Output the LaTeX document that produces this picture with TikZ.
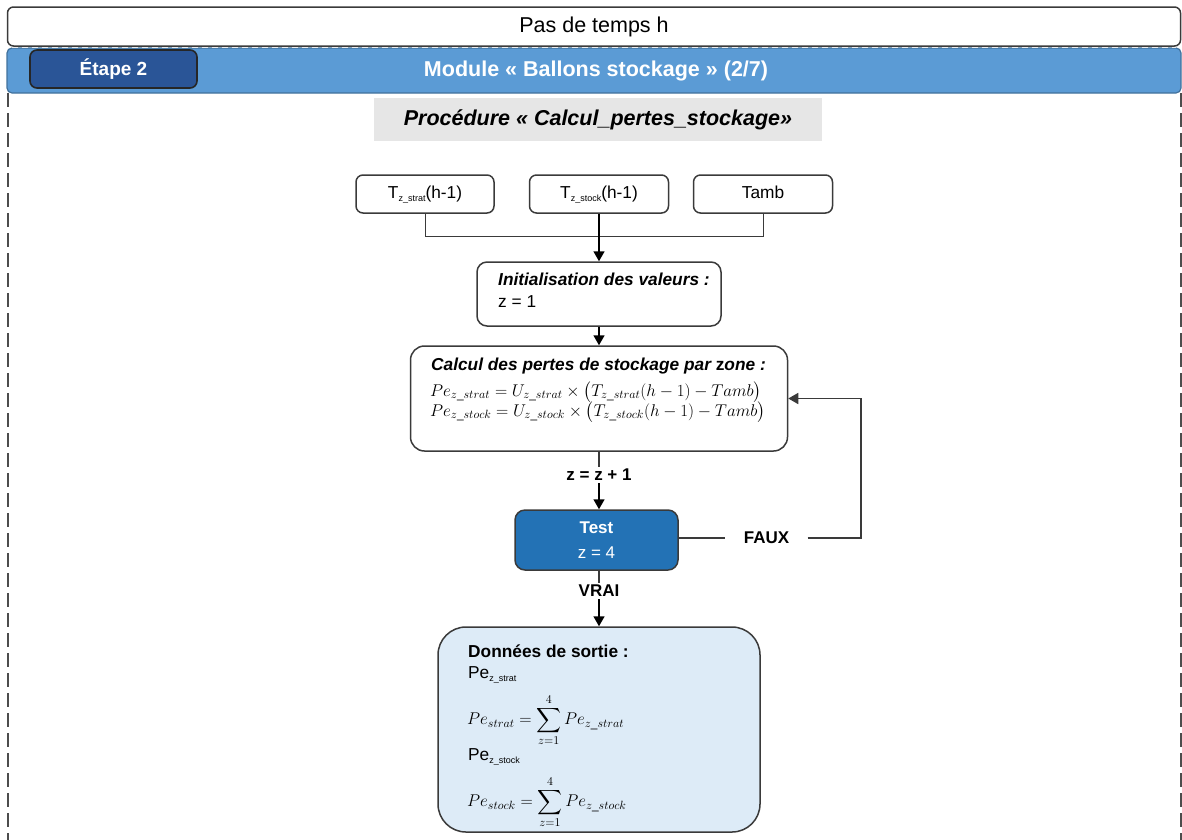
\RequirePackage{fix-cm}
\documentclass[tikz,border=0pt]{standalone}
\usepackage{amsmath}
\usepackage{fontspec}
\setmainfont{Liberation Sans}
\usetikzlibrary{arrows.meta,calc}

\definecolor{linec}{HTML}{3A3A3A}
\definecolor{bandblue}{HTML}{5B9BD5}
\definecolor{bandedge}{HTML}{41719C}
\definecolor{stepblue}{HTML}{2A5597}
\definecolor{testblue}{HTML}{2372B5}
\definecolor{outfill}{HTML}{DDEBF7}
\definecolor{procgray}{HTML}{E6E6E6}

% small subscript used in the plain-text labels
\newcommand{\smsub}[1]{\raisebox{-0.35ex}{\fontsize{9}{9}\selectfont #1}}

\tikzset{
  body/.style={font=\fontsize{17.3}{20}\selectfont},
  big/.style={font=\fontsize{21.5}{24}\selectfont},
  box/.style={draw=linec, line width=1.5pt, rounded corners=7pt, inner sep=0pt},
  inbox/.style={box, body, minimum height=38pt, text height=12.5pt, text depth=3.6pt},
  ln/.style={draw=linec, line width=1.3pt},
  arr/.style={draw=black, line width=1.6pt, -{Triangle[length=10pt,width=11pt]}},
  frame/.style={draw=black!70, line width=2pt, dash pattern=on 14pt off 6pt},
  mathtxt/.style={font=\fontsize{17}{20}\selectfont, inner sep=0pt},
}

\begin{document}
\begin{tikzpicture}[x=1pt,y=-1pt]
\useasboundingbox (0,0) rectangle (1182,839);

% outer dashed frame of the module
\draw[frame] (8,93) -- (8,845);
\draw[frame] (1180.5,93) -- (1180.5,845);

% header: time step and module band
\node[box, rounded corners=6pt, fill=white, big, minimum width=1173pt, minimum height=39pt] (top) at (594,26.5) {Pas de temps h};
\node[draw=bandedge, line width=1.2pt, fill=bandblue, rounded corners=5pt, minimum width=1174pt, minimum height=45pt, inner sep=0pt] (band) at (594,70.5) {};
\draw[white!85!gray, line width=1pt, dash pattern=on 6pt off 4pt] (12,47.5) -- (1176,47.5);
\node[draw=black!85, line width=1.6pt, fill=stepblue, rounded corners=7pt, minimum width=167pt, minimum height=38pt, inner sep=0pt,
      text=white, font=\fontsize{19}{22}\selectfont\bfseries] (step2) at (113.5,69) {Étape 2};
\node[text=white, font=\fontsize{21.5}{24}\selectfont\bfseries] (module) at (596,71) {Module « Ballons stockage » (2/7)};

% procedure title
\node[fill=procgray, minimum width=448pt, minimum height=43pt, inner sep=0pt,
      font=\fontsize{21.5}{24}\selectfont\bfseries\itshape] (proc) at (598,119.5) {Procédure « Calcul\_pertes\_stockage»};

% inputs
\node[inbox, minimum width=138pt] (in1) at (425,194) {T\smsub{z\_strat}(h-1)};
\node[inbox, minimum width=139pt] (in2) at (599,194) {T\smsub{z\_stock}(h-1)};
\node[inbox, minimum width=139pt] (in3) at (763,194) {Tamb};

% initialisation
\node[box, rounded corners=10pt, minimum width=244pt, minimum height=64pt] (init) at (599,294) {};
\node[body, anchor=west, inner sep=0pt, font=\fontsize{17.3}{20}\selectfont\bfseries\itshape] (initT) at (498,279) {Initialisation des valeurs :};
\node[body, anchor=west, inner sep=0pt] (initZ) at (498,302) {z = 1};

% storage losses per zone
\node[box, rounded corners=14pt, minimum width=377pt, minimum height=105pt] (calc) at (599,398.5) {};
\node[anchor=west, inner sep=0pt, font=\fontsize{17.3}{20}\selectfont\bfseries\itshape] (calcT) at (431,366) {Calcul des pertes de stockage par {\upshape z}one :};
\node[mathtxt, anchor=west] (eq1) at (430,392) {$Pe_{z\_strat} = U_{z\_strat} \times \bigl(T_{z\_strat}(h-1) - Tamb\bigr)$};
\node[mathtxt, anchor=west] (eq2) at (430,412) {$Pe_{z\_stock} = U_{z\_stock} \times \bigl(T_{z\_stock}(h-1) - Tamb\bigr)$};

% loop test
\node[font=\fontsize{17}{20}\selectfont\bfseries, inner sep=2pt] (zinc) at (599,475) {z = z + 1};
\node[box, rounded corners=10pt, fill=testblue, minimum width=163pt, minimum height=60pt] (test) at (596.5,540) {};
\node[text=white, font=\fontsize{17}{20}\selectfont\bfseries, inner sep=0pt] (testT) at (596.5,528) {Test};
\node[text=white, font=\fontsize{17}{20}\selectfont, inner sep=0pt] (testZ) at (596.5,553) {z = 4};
\node[font=\fontsize{17}{20}\selectfont\bfseries, inner sep=0pt, minimum width=82pt] (faux) at (766.5,538) {FAUX};
\node[font=\fontsize{17}{20}\selectfont\bfseries, inner sep=2pt] (vrai) at (599,591) {VRAI};
\coordinate (fb) at (861,398.5);

% outputs
\node[box, rounded corners=28pt, fill=outfill, minimum width=322pt, minimum height=205pt] (out) at (599,729.5) {};
\node[anchor=west, inner sep=0pt, font=\fontsize{17.3}{20}\selectfont\bfseries] (o1) at (468,651) {Données de sortie :};
\node[anchor=west, inner sep=0pt, body] (o2) at (468,675) {Pe\smsub{z\_strat}};
\node[anchor=west, mathtxt] (o3) at (467,720) {$\displaystyle Pe_{strat} = \sum_{z=1}^{4} Pe_{z\_strat}$};
\node[anchor=west, inner sep=0pt, body] (o4) at (468,757) {Pe\smsub{z\_stock}};
\node[anchor=west, mathtxt] (o5) at (467,802) {$\displaystyle Pe_{stock} = \sum_{z=1}^{4} Pe_{z\_stock}$};

% connectors
\draw[ln, line width=1pt] (in1.south) -- ++(0,23) -| (in3.south);
\draw[arr] (in2.south) -- (init.north);
\draw[arr] (init.south) -- (calc.north);
\draw[ln, line width=2pt] (calc.south) -- (zinc.north);
\draw[arr] (zinc.south) -- (zinc.south |- test.north);
\draw[ln, line width=2pt] (test.south -| vrai) -- (vrai.north);
\draw[arr] (vrai.south) -- (vrai.south |- out.north);
\draw[ln, line width=1.8pt] (test.east |- faux.west) -- (faux.west);
\draw[arr, draw=linec] (faux.east) -| (fb) -- (calc.east);

\end{tikzpicture}
\end{document}
